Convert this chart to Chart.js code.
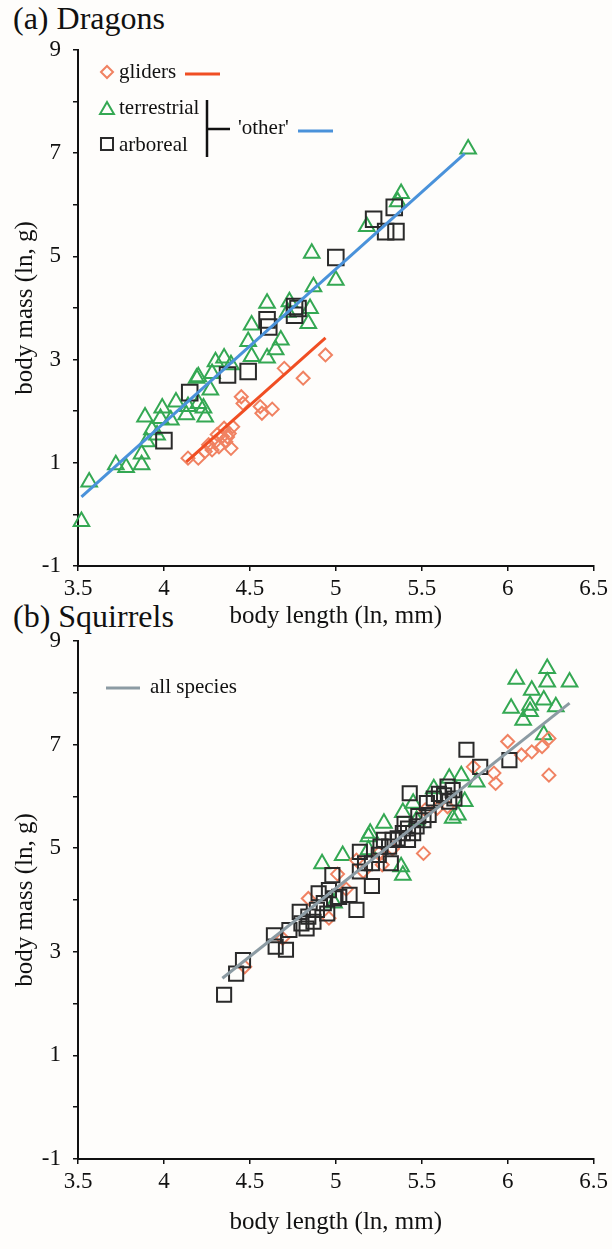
<!DOCTYPE html>
<html>
<head>
<meta charset="utf-8">
<title>Body mass vs body length</title>
<script src="https://cdn.jsdelivr.net/npm/chart.js@4.4.1/dist/chart.umd.min.js"></script>
<style>
  body { margin: 0; width: 612px; height: 1249px; position: relative; overflow: hidden;
         background: #fefdfb; font-family: 'Liberation Serif', 'Times New Roman', serif; }
  .panel-title { position: absolute; left: 13px; font-size: 32px; line-height: 32px; color: #111; white-space: nowrap; }
  canvas { position: absolute; left: 0; }
</style>
</head>
<body>
<div class="panel-title" style="top:2px">(a) Dragons</div>
<div class="panel-title" style="top:600px">(b) Squirrels</div>
<canvas id="dragons" width="612" height="640" style="top:0;width:612px;height:640px"></canvas>
<canvas id="squirrels" width="612" height="659" style="top:590px;width:612px;height:659px"></canvas>
<script>
// --- data: [body length (ln mm), body mass (ln g)] ---
const dragonGliders = [
  [4.14, 1.09], [4.20, 1.09], [4.24, 1.22], [4.26, 1.35], [4.28, 1.25], [4.30, 1.41],
  [4.31, 1.55], [4.32, 1.31], [4.34, 1.51], [4.35, 1.67], [4.36, 1.41], [4.37, 1.50],
  [4.38, 1.57], [4.39, 1.28], [4.40, 1.70], [4.45, 2.28], [4.46, 2.15], [4.56, 2.09],
  [4.57, 1.96], [4.63, 2.04], [4.70, 2.83], [4.81, 2.64], [4.94, 3.09]
];
const dragonTerrestrial = [
  [3.52, -0.14], [3.565, 0.63], [3.72, 0.96], [3.78, 0.91], [3.87, 0.96], [3.87, 1.17],
  [3.89, 1.89], [3.90, 1.41], [3.93, 1.64], [3.96, 1.54], [3.98, 1.86], [3.99, 2.06],
  [4.04, 1.83], [4.07, 2.18], [4.13, 1.93], [4.14, 2.09], [4.19, 2.64], [4.20, 2.15],
  [4.20, 2.67], [4.23, 2.06], [4.24, 1.89], [4.27, 2.41], [4.28, 2.73], [4.30, 2.96],
  [4.35, 3.03], [4.39, 2.90], [4.49, 3.35], [4.51, 3.06], [4.51, 3.67], [4.60, 3.03],
  [4.60, 4.09], [4.65, 3.19], [4.68, 3.38], [4.72, 3.92], [4.73, 4.12], [4.84, 3.70],
  [4.85, 3.99], [4.86, 5.06], [4.87, 4.41], [5.00, 4.54], [5.18, 5.58], [5.36, 6.06],
  [5.38, 6.22], [5.77, 7.08]
];
const dragonArboreal = [
  [4.00, 1.43], [4.15, 2.36], [4.37, 2.70], [4.49, 2.77], [4.60, 3.77], [4.61, 3.63],
  [4.76, 4.03], [4.78, 3.99], [4.76, 3.86], [5.00, 4.98], [5.22, 5.72], [5.34, 5.95],
  [5.29, 5.48], [5.35, 5.48]
];
const dragonGliderFit = [[4.13, 1.02], [4.94, 3.42]];
const dragonOtherFit = [[3.52, 0.34], [5.75, 6.99]];

const squirrelGliders = [
  [4.47, 2.71], [4.69, 3.26], [4.84, 4.03], [4.96, 3.65], [5.01, 4.50], [5.06, 4.21],
  [5.12, 4.77], [5.16, 4.55], [5.25, 4.90], [5.27, 4.68], [5.33, 4.99], [5.51, 4.90],
  [5.52, 5.74], [5.59, 5.77], [5.65, 5.80], [5.80, 6.57], [5.92, 6.45], [5.93, 6.25],
  [6.00, 7.06], [6.08, 6.80], [6.14, 6.86], [6.20, 6.96], [6.24, 7.12], [6.24, 6.41]
];
const squirrelTerrestrial = [
  [4.92, 4.70], [4.99, 3.94], [5.04, 4.86], [5.19, 4.97], [5.19, 5.22], [5.20, 5.29],
  [5.28, 5.48], [5.38, 4.64], [5.39, 4.48], [5.39, 5.69], [5.45, 5.87], [5.47, 5.54],
  [5.57, 6.15], [5.66, 6.35], [5.68, 5.58], [5.71, 5.64], [5.73, 6.40], [5.75, 5.90],
  [5.82, 6.28], [6.02, 7.70], [6.09, 7.47], [6.13, 7.64], [6.13, 7.76], [6.21, 7.19],
  [6.21, 7.86], [6.28, 7.73], [6.14, 8.05], [6.23, 8.21], [6.36, 8.21], [6.05, 8.26],
  [6.23, 8.47]
];
const squirrelArboreal = [
  [4.35, 2.17], [4.42, 2.58], [4.46, 2.84], [4.64, 3.32], [4.65, 3.10], [4.71, 3.04],
  [4.73, 3.42], [4.79, 3.77], [4.80, 3.55], [4.83, 3.45], [4.84, 3.68], [4.87, 3.58],
  [4.89, 3.81], [4.90, 4.13], [4.93, 3.94], [4.95, 3.74], [4.96, 4.19], [4.98, 4.48],
  [4.99, 4.03], [5.02, 4.06], [5.08, 4.10], [5.12, 3.81], [5.21, 4.27], [5.14, 4.55],
  [5.14, 4.93], [5.17, 4.71], [5.21, 4.71], [5.32, 4.71], [5.25, 4.87], [5.26, 5.03],
  [5.28, 5.16], [5.31, 5.03], [5.33, 5.16], [5.36, 5.19], [5.42, 5.16], [5.39, 5.29],
  [5.45, 5.29], [5.42, 5.38], [5.47, 5.42], [5.40, 5.47], [5.51, 5.54], [5.54, 5.64],
  [5.48, 5.62], [5.53, 5.87], [5.57, 5.96], [5.43, 6.06], [5.60, 6.05], [5.65, 6.19],
  [5.68, 6.12], [5.63, 6.02], [5.69, 5.96], [5.66, 5.90], [5.76, 6.90], [5.84, 6.57],
  [6.01, 6.70]
];
const squirrelAllFit = [[4.34, 2.49], [6.36, 7.80]];

const xLimits = [3.5, 6.5];
const yLimits = [-1, 9];

const serif = "'Liberation Serif', 'Times New Roman', serif";
const ink = '#111';
const gliderColor = '#f08262';
const gliderLine = '#f04e23';
const terrColor = '#34a853';
const arbColor = '#2a2a2a';
const otherLine = '#4a92da';
const allLine = '#8c9ba3';

Chart.defaults.font.family = serif;
Chart.defaults.color = ink;

function pts(list) {
  return list.map(p => ({ x: p[0], y: p[1] }));
}

function markers(label, list, style, radius, color) {
  return {
    label, data: pts(list), showLine: false, clip: false,
    pointStyle: style, pointRadius: radius, pointHoverRadius: radius,
    pointBorderWidth: 2, pointBorderColor: color, pointBackgroundColor: 'rgba(0,0,0,0)'
  };
}

function fitLine(label, list, color) {
  return {
    label, data: pts(list), showLine: true, clip: false,
    borderColor: color, borderWidth: 3, pointRadius: 0
  };
}

function axes(xHeight, xTitlePad) {
  return {
    x: {
      type: 'linear', min: xLimits[0], max: xLimits[1],
      ticks: { stepSize: 0.5, autoSkip: false, maxRotation: 0, padding: 4, color: ink, font: { size: 23 },
               callback: v => String(v) },
      grid: { drawOnChartArea: false, tickLength: 5, color: ink, lineWidth: 1.5 },
      border: { color: ink, width: 2 },
      title: { display: true, text: 'body length (ln, mm)', color: ink, font: { size: 25 },
               padding: { top: 0, bottom: xTitlePad } },
      afterFit: s => { s.height = xHeight; }
    },
    y: {
      type: 'linear', min: yLimits[0], max: yLimits[1],
      ticks: { stepSize: 1, padding: 12, color: ink, font: { size: 23 },
               callback: v => (Math.abs(v) % 2 === 1 ? String(v) : '') },
      grid: { drawOnChartArea: false, tickLength: 5, color: ink, lineWidth: 1.5 },
      border: { color: ink, width: 2 },
      title: { display: true, text: 'body mass (ln, g)', color: ink, font: { size: 25 },
               padding: { top: 10, bottom: 0 } },
      afterFit: s => { s.width = 78; }
    }
  };
}

function shortLine(ctx, color, x1, x2, y) {
  ctx.strokeStyle = color;
  ctx.lineWidth = 3;
  ctx.beginPath();
  ctx.moveTo(x1, y);
  ctx.lineTo(x2, y);
  ctx.stroke();
}

function symbol(ctx, style, radius, color, x, y) {
  ctx.strokeStyle = color;
  ctx.fillStyle = 'rgba(0,0,0,0)';
  ctx.lineWidth = 2;
  Chart.helpers.drawPoint(ctx, { pointStyle: style, radius, borderWidth: 2, rotation: 0 }, x, y);
}

// key for panel (a), with the bracket grouping terrestrial + arboreal
const dragonKey = {
  id: 'dragonKey',
  afterDraw(chart) {
    const ctx = chart.ctx;
    const t = chart.chartArea.top;
    ctx.save();
    symbol(ctx, 'rectRot', 6, gliderColor, 107, t + 22);
    symbol(ctx, 'triangle', 8, terrColor, 107, t + 60);
    symbol(ctx, 'rect', 8.5, arbColor, 107, t + 94);
    shortLine(ctx, gliderLine, 185, 220, t + 24);
    shortLine(ctx, otherLine, 298, 333, t + 81);

    ctx.strokeStyle = ink;
    ctx.lineWidth = 2.5;
    ctx.beginPath();
    ctx.moveTo(207, t + 50);
    ctx.lineTo(207, t + 107);
    ctx.moveTo(207, t + 79);
    ctx.lineTo(230, t + 79);
    ctx.stroke();

    ctx.fillStyle = ink;
    ctx.font = '21px ' + serif;
    ctx.textBaseline = 'middle';
    ctx.fillText('gliders', 119, t + 22);
    ctx.fillText('terrestrial', 119, t + 58);
    ctx.fillText('arboreal', 119, t + 95);
    ctx.fillText("'other'", 238, t + 78);
    ctx.restore();
  }
};

const squirrelKey = {
  id: 'squirrelKey',
  afterDraw(chart) {
    const ctx = chart.ctx;
    const t = chart.chartArea.top;
    ctx.save();
    shortLine(ctx, allLine, 106, 140, t + 47);
    ctx.fillStyle = ink;
    ctx.font = '21px ' + serif;
    ctx.textBaseline = 'middle';
    ctx.fillText('all species', 150, t + 46);
    ctx.restore();
  }
};

const baseOptions = {
  responsive: false,
  animation: false,
  devicePixelRatio: 1,
  plugins: { legend: { display: false }, tooltip: { enabled: false } }
};

new Chart(document.getElementById('dragons'), {
  type: 'scatter',
  data: {
    datasets: [
      fitLine("'other'", dragonOtherFit, otherLine),
      fitLine('gliders fit', dragonGliderFit, gliderLine),
      markers('arboreal', dragonArboreal, 'rect', 11, arbColor),
      markers('gliders', dragonGliders, 'rectRot', 6.5, gliderColor),
      markers('terrestrial', dragonTerrestrial, 'triangle', 9, terrColor)
    ]
  },
  options: Object.assign({}, baseOptions, {
    layout: { padding: { top: 50, right: 15, bottom: 0, left: 0 } },
    scales: axes(74, 9)
  }),
  plugins: [dragonKey]
});

new Chart(document.getElementById('squirrels'), {
  type: 'scatter',
  data: {
    datasets: [
      fitLine('all species', squirrelAllFit, allLine),
      markers('arboreal', squirrelArboreal, 'rect', 10, arbColor),
      markers('gliders', squirrelGliders, 'rectRot', 6.5, gliderColor),
      markers('terrestrial', squirrelTerrestrial, 'triangle', 9, terrColor)
    ]
  },
  options: Object.assign({}, baseOptions, {
    layout: { padding: { top: 51, right: 15, bottom: 0, left: 0 } },
    scales: axes(90, 12)
  }),
  plugins: [squirrelKey]
});
</script>
</body>
</html>
